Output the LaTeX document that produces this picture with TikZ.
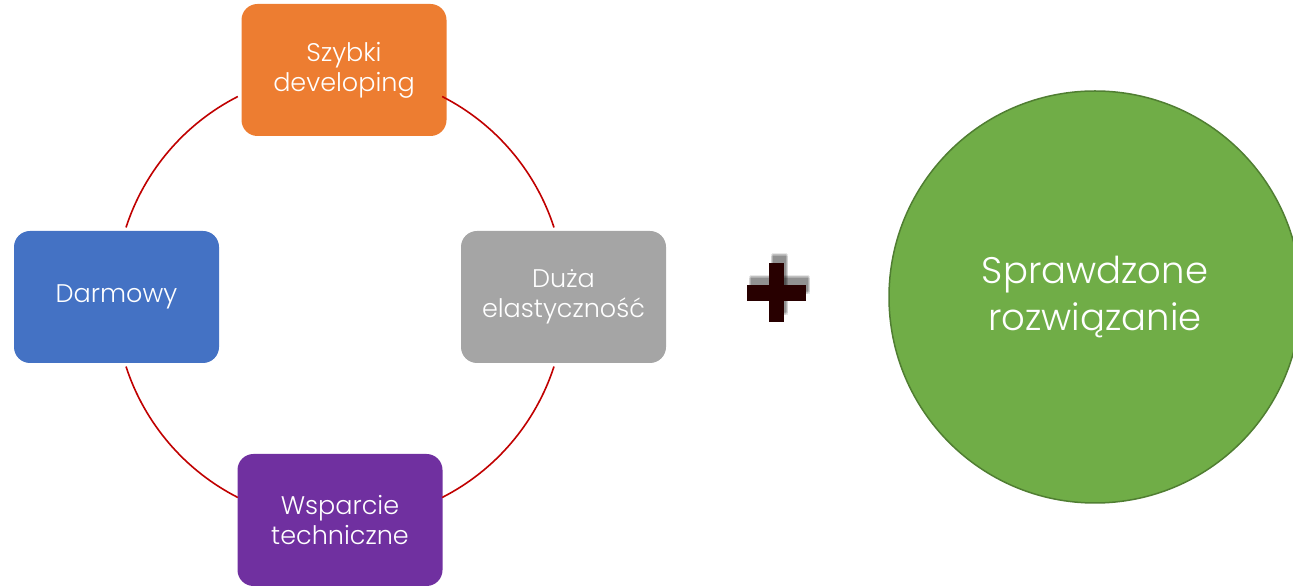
\documentclass[tikz,border=0pt]{standalone}
\usepackage{fontspec}
\setmainfont{Poppins}[UprightFont={* Light}]
\usepackage{tikz}
\usetikzlibrary{calc,positioning}

\definecolor{szybkicol}{RGB}{237,125,49}
\definecolor{darmowycol}{RGB}{68,114,196}
\definecolor{duzacol}{RGB}{165,165,165}
\definecolor{wsparciecol}{RGB}{112,48,160}
\definecolor{sprawdzonecol}{RGB}{112,173,71}
\definecolor{sprawdzoneedge}{RGB}{80,126,50}
\definecolor{cyclecol}{RGB}{192,0,0}
\definecolor{pluscol}{RGB}{40,0,0}

\tikzset{
  featbox/.style={rectangle,rounded corners=16pt,minimum width=205pt,minimum height=132pt,
    text=white,align=center,font=\fontsize{25.5}{30}\selectfont,inner sep=0pt},
  cycleline/.style={draw=cyclecol,line width=1.6pt},
}

\begin{document}
\begin{tikzpicture}[x=1pt,y=1pt]
  \useasboundingbox (0,0) rectangle (1293,586);
  % \draw[color=gray,step=10pt, help lines,opacity=0.3] (0,0) grid (1293,586); %help grids
  \coordinate (c) at (340,289);
  \node[featbox,fill=szybkicol] (szybki) at (344,516) {Szybki\\developing};
  \node[featbox,fill=darmowycol] (darmowy) at (116.5,289) {Darmowy};
  \node[featbox,fill=duzacol] (duza) at (563.5,289) {Duża\\elastyczność};
  \node[featbox,fill=wsparciecol] (wsparcie) at (340,66) {Wsparcie\\techniczne};
  \draw[cycleline] ($(c)+(162:225)$) arc[start angle=162,end angle=117,radius=225];
  \draw[cycleline] ($(c)+(63:225)$) arc[start angle=63,end angle=18,radius=225];
  \draw[cycleline] ($(c)+(-18:225)$) arc[start angle=-18,end angle=-63,radius=225];
  \draw[cycleline] ($(c)+(-117:225)$) arc[start angle=-117,end angle=-162,radius=225];
  % plus sign with soft shadow
  \coordinate (plus) at (776.5,293);
  \foreach \dx/\dy in {2/7,3/8,4/9,3/10,2/9,4/7}{
    \fill[black,opacity=0.09] ($(plus)+(\dx-29.5,\dy-8)$) rectangle ++(59,16);
    \fill[black,opacity=0.09] ($(plus)+(\dx-7.5,\dy-29.5)$) rectangle ++(15,59);
  }
  \fill[pluscol] ($(plus)+(-29.5,-8)$) rectangle ++(59,16);
  \fill[pluscol] ($(plus)+(-7.5,-29.5)$) rectangle ++(15,59);
  \node[circle,minimum size=412pt,inner sep=0pt,fill=sprawdzonecol,draw=sprawdzoneedge,line width=1.5pt,
    text=white,align=center,font=\fontsize{37}{47}\selectfont] (sprawdzone) at (1095,289) {Sprawdzone\\rozwiązanie};
\end{tikzpicture}
\end{document}
